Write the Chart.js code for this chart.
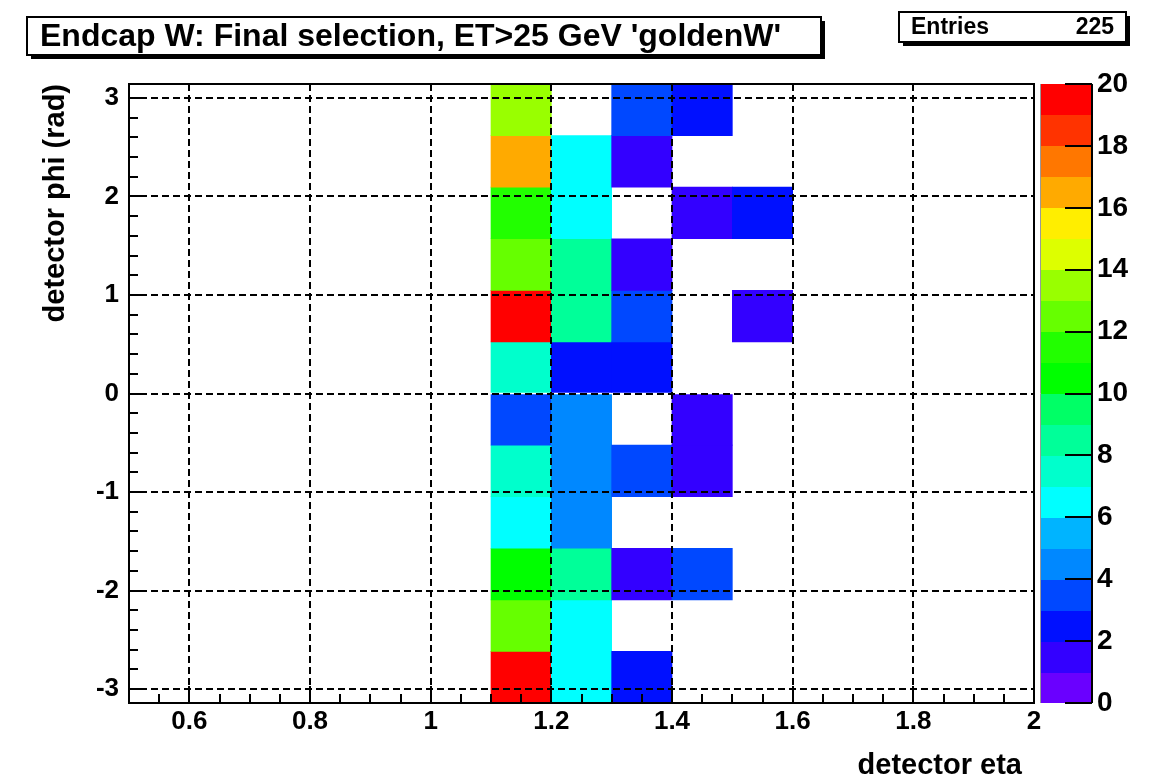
<!DOCTYPE html>
<html><head><meta charset="utf-8">
<script src="https://cdn.jsdelivr.net/npm/chart.js@4/dist/chart.umd.min.js"></script>
<style>html,body{margin:0;padding:0;background:#fff;overflow:hidden}#wrap{width:1151px;height:777px}</style>
</head><body><div id="wrap"><canvas id="c" width="1151" height="777"></canvas></div>
<script>
// ---------- data ----------
const titleText = "Endcap W: Final selection, ET>25 GeV 'goldenW'";
const entriesLabel = "Entries";
const entriesValue = "225";
const xTitle = "detector eta";
const yTitle = "detector phi (rad)";
const etaCenters = [1.15, 1.25, 1.35, 1.45, 1.55];
const phiBinCount = 12;
// counts per eta column, phi bins ordered from -pi (bottom) to +pi (top)
const counts115 = [19, 12, 10, 6, 7, 3, 7, 19, 12, 11, 16, 13];
const counts125 = [6, 6, 8, 4, 4, 4, 2, 8, 8, 6, 6, 0];
const counts135 = [2, 0, 1, 0, 3, 0, 2, 3, 1, 0, 1, 3];
const counts145 = [0, 0, 3, 0, 1, 1, 0, 0, 0, 1, 0, 2];
const counts155 = [0, 0, 0, 0, 0, 0, 0, 1, 0, 2, 0, 0];
const xTicks = [0.6, 0.8, 1.0, 1.2, 1.4, 1.6, 1.8, 2.0];
const yTicks = [-3, -2, -1, 0, 1, 2, 3];
const zTicks = [0, 2, 4, 6, 8, 10, 12, 14, 16, 18, 20];
const palette = ['#6a00ff', '#3300ff', '#0010ff', '#0048ff', '#0088ff', '#00b4ff', '#00ffff', '#00ffcc',
  '#00ff99', '#00ff66', '#00ff00', '#22ff00', '#66ff00', '#99ff00', '#ddff00', '#ffee00',
  '#ffaa00', '#ff7700', '#ff3300', '#ff0000'];

// ---------- build ----------
const FONT = "'Liberation Sans', Arial, Helvetica, sans-serif";
const columns = [counts115, counts125, counts135, counts145, counts155];
const phiMin = -Math.PI, phiMax = Math.PI;
const phiW = (phiMax - phiMin) / phiBinCount;
const cells = [];
columns.forEach((col, i) => col.forEach((v, j) => {
  if (v > 0) cells.push({ x: etaCenters[i], y: [phiMin + j * phiW, phiMin + (j + 1) * phiW], v: v });
}));
const colorFor = v => palette[Math.max(0, Math.min(palette.length - 1, Math.floor(v)))];

const decor = {
  id: 'decor',
  beforeDraw(chart) {
    const c = chart.ctx;
    c.save(); c.fillStyle = '#fff'; c.fillRect(0, 0, chart.width, chart.height); c.restore();
  },
  afterDraw(chart) {
    const c = chart.ctx, a = chart.chartArea;
    const xs = chart.scales.x, ys = chart.scales.y, zs = chart.scales.z;
    c.save();
    c.strokeStyle = '#000'; c.lineWidth = 2;
    // inner ticks bottom
    c.beginPath();
    for (let k = 0; k <= 30; k++) {
      const v = 0.5 + k * 0.05;
      const major = xTicks.some(t => Math.abs(t - v) < 1e-6);
      const px = Math.round(xs.getPixelForValue(v));
      c.moveTo(px, a.bottom); c.lineTo(px, a.bottom - (major ? 17 : 9));
    }
    // inner ticks left
    for (let k = 0; k <= 30; k++) {
      const v = -3 + k * 0.2;
      const major = yTicks.some(t => Math.abs(t - v) < 1e-6);
      const py = Math.round(ys.getPixelForValue(v));
      c.moveTo(a.left, py); c.lineTo(a.left + (major ? 17 : 9), py);
    }
    c.stroke();
    // frame
    c.strokeRect(a.left, a.top, a.right - a.left, a.bottom - a.top);
    // colour bar
    const bl = zs.left + 7, br = zs.left + 58;
    for (let k = 0; k < palette.length; k++) {
      const y1 = zs.getPixelForValue(k + 1), y0 = zs.getPixelForValue(k);
      c.fillStyle = palette[k];
      c.fillRect(bl, Math.floor(y1), br - bl, Math.ceil(y0) - Math.floor(y1));
    }
    c.beginPath();
    c.moveTo(br, zs.top); c.lineTo(br, zs.bottom);
    zTicks.forEach(t => { const py = Math.round(zs.getPixelForValue(t)); c.moveTo(br, py); c.lineTo(br - 27, py); });
    c.stroke();
    c.strokeStyle = '#999'; c.lineWidth = 1;
    c.beginPath(); c.moveTo(bl - 0.5, zs.top); c.lineTo(bl - 0.5, zs.bottom); c.stroke();
    // x axis title
    c.fillStyle = '#000'; c.font = 'bold 29px ' + FONT;
    c.textAlign = 'right'; c.textBaseline = 'alphabetic';
    c.fillText(xTitle, xs.right - 12, 774);
    // title box
    const box = (x, y, w, h) => {
      c.fillStyle = '#000'; c.fillRect(x + 4, y + 4, w, h);
      c.fillStyle = '#fff'; c.fillRect(x, y, w, h);
      c.strokeStyle = '#000'; c.lineWidth = 2; c.strokeRect(x, y, w, h);
    };
    box(27, 17, 794, 38);
    c.fillStyle = '#000'; c.textBaseline = 'middle'; c.textAlign = 'left';
    c.font = 'bold 32px ' + FONT;
    c.fillText(titleText, 40, 37, 768);
    box(899, 12, 227, 30);
    c.fillStyle = '#000'; c.font = 'bold 23px ' + FONT;
    c.textAlign = 'left'; c.fillText(entriesLabel, 911, 28);
    c.textAlign = 'right'; c.fillText(entriesValue, 1114, 28);
    c.restore();
  }
};

const tickFont = { family: FONT, size: 26, weight: 'bold' };
const titleFont = { family: FONT, size: 29, weight: 'bold', lineHeight: 1 };
const gridOpts = { display: true, drawTicks: false, drawOnChartArea: true, color: '#000', lineWidth: 2, z: 1, offset: false };
const fmt = v => String(+Number(v).toFixed(2));

new Chart(document.getElementById('c').getContext('2d'), {
  type: 'bar',
  data: {
    datasets: [{
      data: cells,
      xAxisID: 'x', yAxisID: 'y',
      backgroundColor: ctx => ctx.raw ? colorFor(ctx.raw.v) : '#fff',
      borderWidth: 0, borderSkipped: false,
      barPercentage: 1, categoryPercentage: 1
    }]
  },
  options: {
    responsive: false, animation: false, devicePixelRatio: 1,
    layout: { padding: { top: 84, right: 10, bottom: 0, left: 0 } },
    plugins: { legend: { display: false }, tooltip: { enabled: false }, title: { display: false } },
    scales: {
      x: {
        type: 'linear', position: 'bottom', min: 0.5, max: 2.0, offset: false,
        afterBuildTicks: s => { s.ticks = xTicks.map(v => ({ value: v })); },
        afterFit: s => { s.height = 74; },
        grid: gridOpts,
        border: { display: false, dash: [7, 4] },
        ticks: { padding: 3, font: tickFont, color: '#000', maxRotation: 0, autoSkip: false, callback: fmt },
        title: { display: false, text: xTitle }
      },
      y: {
        type: 'linear', position: 'left', min: phiMin, max: phiMax,
        afterBuildTicks: s => { s.ticks = yTicks.map(v => ({ value: v })); },
        afterFit: s => { s.width = 129; },
        grid: gridOpts,
        border: { display: false, dash: [7, 4] },
        ticks: { padding: 10, font: tickFont, color: '#000', autoSkip: false, callback: fmt },
        title: { display: true, text: yTitle, align: 'end', color: '#000', font: titleFont, padding: { top: 41, bottom: 0 } }
      },
      z: {
        type: 'linear', position: 'right', min: 0, max: 20,
        afterBuildTicks: s => { s.ticks = zTicks.map(v => ({ value: v })); },
        afterFit: s => { s.width = 107; },
        grid: { display: true, drawOnChartArea: false, drawTicks: true, tickLength: 60, tickColor: 'rgba(0,0,0,0)', color: 'rgba(0,0,0,0)' },
        border: { display: false },
        ticks: { padding: 3, font: { family: FONT, size: 28, weight: 'bold' }, color: '#000', autoSkip: false, callback: fmt }
      }
    }
  },
  plugins: [decor]
});
</script></body></html>
